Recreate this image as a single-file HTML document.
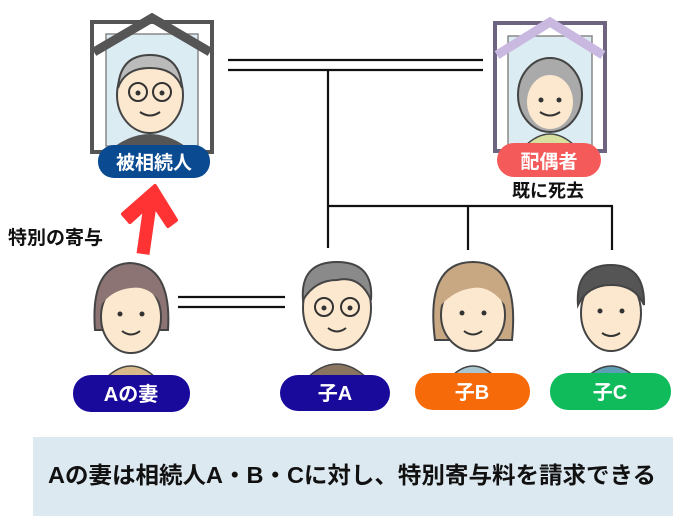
<!DOCTYPE html>
<html><head><meta charset="utf-8"><style>
body{margin:0;width:700px;height:525px;background:#fff;overflow:hidden}
svg text{font-family:"Liberation Sans","Noto Sans CJK JP",sans-serif;font-weight:bold}
</style></head><body>
<svg width="700" height="525" viewBox="0 0 700 525" xmlns="http://www.w3.org/2000/svg">
<g stroke="#111" stroke-width="2.2" fill="none">
<line x1="228" y1="60" x2="483" y2="60"/><line x1="228" y1="70" x2="483" y2="70"/>
<line x1="328" y1="70" x2="328" y2="248"/>
<line x1="328" y1="206" x2="613" y2="206"/>
<line x1="468" y1="206" x2="468" y2="250"/>
<line x1="612" y1="206" x2="612" y2="250"/>
<line x1="178" y1="297" x2="285" y2="297"/><line x1="178" y1="307" x2="285" y2="307"/>
</g>
<!-- left frame -->
<rect x="92" y="22" width="120" height="130" fill="#fff" stroke="#555" stroke-width="4"/>
<rect x="106" y="34" width="92" height="112" fill="#dcecf3" stroke="#888" stroke-width="1.5"/>
<path d="M115,146 Q150,122 185,146Z" fill="#555"/>
<ellipse cx="150" cy="95" rx="33" ry="38" fill="#fbe8cf" stroke="#444" stroke-width="2"/>
<path d="M118,88 Q120,55 150,55 Q180,55 182,88 Q175,68 150,68 Q125,68 118,88Z" fill="#bbb" stroke="#444" stroke-width="2"/>
<circle cx="138" cy="92" r="9" fill="none" stroke="#333" stroke-width="2"/><circle cx="162" cy="92" r="9" fill="none" stroke="#333" stroke-width="2"/>
<circle cx="138" cy="93" r="2.5" fill="#333"/><circle cx="162" cy="93" r="2.5" fill="#333"/>
<path d="M140,112 Q150,119 160,112" fill="none" stroke="#333" stroke-width="2"/>
<polyline points="94,52 152,18 210,52" fill="none" stroke="#555" stroke-width="9"/>
<rect x="98" y="145" width="112" height="33" rx="16" fill="#0a4a91"/>
<text x="154" y="169" font-size="19" fill="#fff" text-anchor="middle">被相続人</text>
<!-- right frame -->
<rect x="495" y="23" width="110" height="128" fill="#fff" stroke="#6f6480" stroke-width="4"/>
<rect x="508" y="36" width="84" height="110" fill="#dcecf3" stroke="#888" stroke-width="1.5"/>
<path d="M525,146 Q550,122 575,146Z" fill="#d8e0a0" stroke="#444" stroke-width="1.5"/>
<ellipse cx="550" cy="95" rx="32" ry="37" fill="#aaa" stroke="#444" stroke-width="2"/>
<ellipse cx="550" cy="102" rx="23" ry="27" fill="#fbe8cf"/>
<circle cx="541" cy="100" r="2.5" fill="#333"/><circle cx="559" cy="100" r="2.5" fill="#333"/>
<path d="M540,112 Q550,119 560,112" fill="none" stroke="#333" stroke-width="2"/>
<polyline points="497,55 550,22 603,55" fill="none" stroke="#c9b8e0" stroke-width="9"/>
<rect x="497" y="143" width="104" height="34" rx="17" fill="#f45a5a"/>
<text x="549" y="168" font-size="19" fill="#fff" text-anchor="middle">配偶者</text>
<text x="548" y="197" font-size="18" fill="#111" text-anchor="middle">既に死去</text>
<!-- arrow -->
<line x1="143" y1="254" x2="150" y2="205" stroke="#f33" stroke-width="13" stroke-linecap="butt"/>
<polygon points="155,186 123,214 130,222 152,202 168,226 176,220" fill="#f33" stroke="#f33" stroke-width="4" stroke-linejoin="round"/>
<text x="8" y="244" font-size="19" fill="#111">特別の寄与</text>
<!-- wife -->
<path d="M95,330 Q90,265 130,263 Q172,265 168,330Z" fill="#8c7474" stroke="#444" stroke-width="2"/>
<path d="M104,380 Q131,352 158,380Z" fill="#d8b98a" stroke="#444" stroke-width="1.5"/>
<ellipse cx="131" cy="317" rx="30" ry="36" fill="#fbe8cf" stroke="#444" stroke-width="2"/>
<path d="M101,305 Q110,275 131,275 Q155,275 162,305 Q150,285 131,288 Q112,290 101,305Z" fill="#8c7474"/>
<circle cx="120" cy="314" r="2.5" fill="#333"/><circle cx="142" cy="314" r="2.5" fill="#333"/>
<path d="M122,331 Q131,338 140,331" fill="none" stroke="#333" stroke-width="2"/>
<rect x="73" y="375" width="117" height="37" rx="18" fill="#1a0a9c"/>
<text x="131" y="401" font-size="20" fill="#fff" text-anchor="middle">Aの妻</text>
<!-- child A -->
<path d="M305,380 Q337,348 369,380Z" fill="#8a7560" stroke="#444" stroke-width="1.5"/>
<ellipse cx="337" cy="308" rx="34" ry="42" fill="#fbe8cf" stroke="#444" stroke-width="2"/>
<path d="M303,300 Q300,262 337,262 Q374,262 371,300 Q360,275 337,280 Q315,280 303,300Z" fill="#8a8a8a" stroke="#444" stroke-width="2"/>
<circle cx="324" cy="307" r="9" fill="none" stroke="#333" stroke-width="2"/><circle cx="350" cy="307" r="9" fill="none" stroke="#333" stroke-width="2"/>
<circle cx="324" cy="308" r="2.5" fill="#333"/><circle cx="350" cy="308" r="2.5" fill="#333"/>
<path d="M328,328 Q337,335 346,328" fill="none" stroke="#333" stroke-width="2"/>
<rect x="280" y="375" width="110" height="36" rx="18" fill="#1a0a9c"/>
<text x="335" y="400" font-size="20" fill="#fff" text-anchor="middle">子A</text>
<!-- child B -->
<path d="M435,340 Q425,262 473,262 Q520,262 512,340Z" fill="#c7a882" stroke="#444" stroke-width="2"/>
<path d="M448,380 Q473,352 498,380Z" fill="#a9c6d0" stroke="#444" stroke-width="1.5"/>
<ellipse cx="473" cy="315" rx="32" ry="36" fill="#fbe8cf" stroke="#444" stroke-width="2"/>
<path d="M441,305 Q450,275 473,275 Q498,275 505,305 Q490,285 473,288 Q455,290 441,305Z" fill="#c7a882"/>
<circle cx="462" cy="313" r="2.5" fill="#333"/><circle cx="484" cy="313" r="2.5" fill="#333"/>
<path d="M464,331 Q473,338 482,331" fill="none" stroke="#333" stroke-width="2"/>
<rect x="415" y="373" width="115" height="37" rx="18" fill="#f66a0a"/>
<text x="472" y="399" font-size="20" fill="#fff" text-anchor="middle">子B</text>
<!-- child C -->
<path d="M584,380 Q611,352 638,380Z" fill="#5e9fb6" stroke="#444" stroke-width="1.5"/>
<ellipse cx="611" cy="313" rx="30" ry="38" fill="#fbe8cf" stroke="#444" stroke-width="2"/>
<path d="M578,305 Q575,265 611,265 Q645,265 644,305 Q635,285 611,285 Q588,285 578,305Z" fill="#555" stroke="#444" stroke-width="2"/>
<circle cx="600" cy="311" r="2.5" fill="#333"/><circle cx="622" cy="311" r="2.5" fill="#333"/>
<path d="M602,333 Q611,339 620,333" fill="none" stroke="#333" stroke-width="2"/>
<rect x="550" y="373" width="121" height="37" rx="18" fill="#10bb5c"/>
<text x="610" y="399" font-size="20" fill="#fff" text-anchor="middle">子C</text>
<!-- bottom box -->
<rect x="33" y="437" width="640" height="79" fill="#dde9f0"/>
<text x="352" y="483" font-size="23" fill="#111" text-anchor="middle" textLength="608" lengthAdjust="spacingAndGlyphs">Aの妻は相続人A・B・Cに対し、特別寄与料を請求できる</text>
</svg>
</body></html>
